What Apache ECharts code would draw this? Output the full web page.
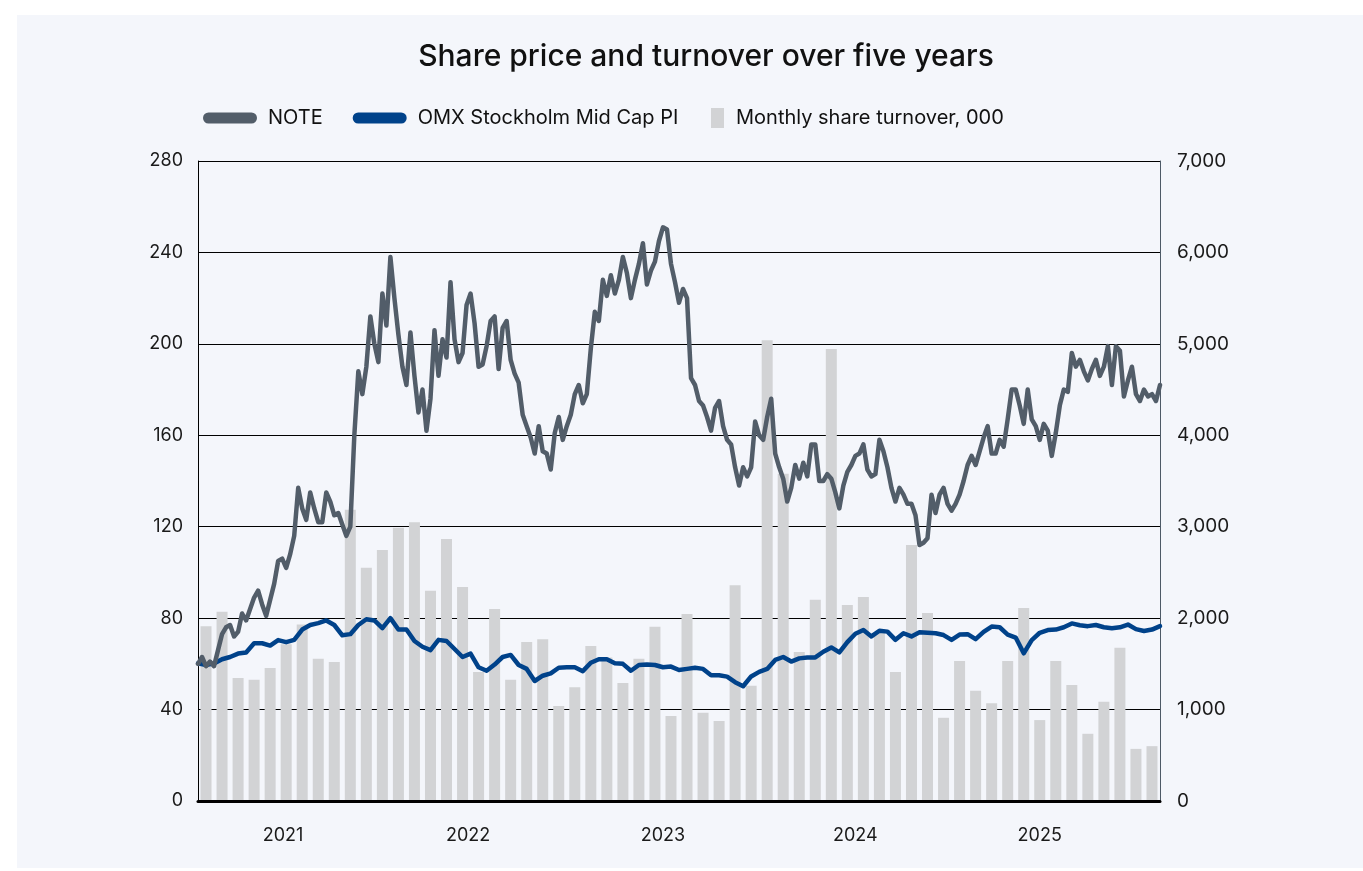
<!DOCTYPE html>
<html>
<head>
<meta charset="utf-8">
<title>Share price and turnover over five years</title>
<script src="https://cdn.jsdelivr.net/npm/echarts@6/dist/echarts.min.js"></script>
<style>
  html, body { margin: 0; padding: 0; background: #ffffff; }
  #panel { position: absolute; left: 17px; top: 15px; width: 1346px; height: 853px; background: #f4f6fb; }
  #chart { position: absolute; left: 0; top: 0; width: 1363px; height: 871px; }
</style>
</head>
<body>
<div id="panel"></div>
<div id="chart"></div>
<script>
// monthly share turnover, thousands of shares (60 months, Feb 2021 - Jan 2026)
const turnover = [
  1910, 2070, 1345, 1325, 1455, 1715, 1930, 1555, 1520, 3185,
  2550, 2745, 2990, 3050, 2300, 2865, 2340, 1410, 2100, 1325,
  1740, 1770, 1040, 1245, 1695, 1570, 1290, 1555, 1905, 930,
  2045, 965, 875, 2360, 1260, 5040, 3580, 1630, 2200, 4945,
  2145, 2230, 1840, 1410, 2800, 2055, 910, 1530, 1205, 1070,
  1530, 2110, 885, 1530, 1270, 735, 1085, 1675, 570, 600
];

// NOTE share price, weekly (4 readings per month)
const notePrice = [
  60, 63, 59, 61, 59, 66, 73, 76, 77, 72, 74, 82, 79, 84, 89, 92, 86, 81, 88, 95,
  105, 106, 102, 108, 116, 137, 128, 123, 135, 128, 122, 122, 135, 131, 125, 126, 121, 116, 120, 160,
  188, 178, 190, 212, 200, 192, 222, 208, 238, 220, 204, 190, 182, 205, 186, 170, 180, 162, 176, 206,
  186, 202, 194, 227, 202, 192, 196, 217, 222, 209, 190, 191, 199, 210, 212, 189, 207, 210, 193, 187,
  183, 169, 164, 159, 152, 164, 153, 152, 145, 161, 168, 158, 164, 169, 178, 182, 174, 178, 198, 214,
  210, 228, 221, 230, 222, 228, 238, 231, 220, 228, 235, 244, 226, 232, 236, 245, 251, 250, 235, 227,
  218, 224, 220, 185, 182, 175, 173, 168, 162, 172, 175, 164, 158, 156, 146, 138, 146, 142, 146, 166,
  160, 158, 168, 176, 152, 146, 141, 131, 137, 147, 141, 148, 142, 156, 156, 140, 140, 143, 141, 135,
  128, 138, 144, 147, 151, 152, 156, 145, 142, 143, 158, 153, 146, 137, 131, 137, 134, 130, 130, 125,
  112, 113, 115, 134, 126, 134, 137, 130, 127, 130, 134, 140, 147, 151, 147, 153, 159, 164, 152, 152,
  158, 155, 167, 180, 180, 173, 165, 180, 167, 164, 158, 165, 162, 151, 161, 173, 180, 179, 196, 190,
  193, 188, 184, 189, 193, 186, 190, 199, 182, 199, 197, 177, 184, 190, 178, 175, 180, 177, 178, 175,
  182
];

// OMX Stockholm Mid Cap PI, rebased, twice a month
const omxIndex = [
  60.2, 59.5, 60.2, 62, 63, 64.5, 65, 69, 69, 68, 70.4, 69.5, 70.5, 75, 77, 77.8, 79, 77, 72.5, 73,
  77, 79.5, 79, 75.6, 80, 75, 75, 70, 67.5, 66, 70.5, 70, 66.5, 63, 64.5, 58.5, 57, 59.7, 63, 63.9,
  59.5, 57.8, 52.5, 54.8, 55.8, 58.3, 58.5, 58.5, 56.8, 60.5, 62, 62, 60.3, 60, 57, 59.5, 59.7, 59.5, 58.5, 58.8,
  57.3, 57.8, 58.3, 57.8, 55, 55, 54.4, 52, 50.2, 54.5, 56.5, 57.8, 61.7, 63, 61, 62.4, 62.8, 62.8, 65.3, 67.2,
  65, 69.5, 73.2, 74.8, 72, 74.5, 74.1, 70.5, 73.4, 72, 73.8, 73.6, 73.4, 72.6, 70.5, 72.8, 73, 70.8, 74, 76.3,
  76, 72.8, 71.5, 64.6, 70.4, 73.6, 74.8, 75, 76, 77.7, 76.9, 76.5, 77, 76, 75.6, 76, 77.2, 75.2, 74.4, 75,
  76.5
];

const yearLabels = ['2021', '2022', '2023', '2024', '2025'];
const yearLabelPos = [5.3, 16.85, 29, 41, 52.5]; // months from start

const font = 'Inter, "Noto Sans", sans-serif';
const chart = echarts.init(document.getElementById('chart'), null, { renderer: 'canvas' });

const option = {
  animation: false,
  backgroundColor: 'transparent',
  title: {
    text: 'Share price and turnover over five years',
    left: 701,
    textAlign: 'center',
    top: 37,
    textStyle: { fontFamily: font, fontSize: 30, fontWeight: 500, color: '#111111' }
  },
  legend: [
    {
      data: ['NOTE', 'OMX Stockholm Mid Cap PI'],
      left: 198,
      top: 103,
      itemWidth: 54,
      itemHeight: 11,
      itemGap: 30,
      icon: 'path://M5.5,0 H48.5 A5.5,5.5 0 0 1 48.5,11 H5.5 A5.5,5.5 0 0 1 5.5,0 Z',
      textStyle: { fontFamily: font, fontSize: 20, color: '#111111', padding: [0, 0, 0, 6] }
    },
    {
      data: ['Monthly share turnover, 000'],
      left: 706,
      top: 103,
      itemWidth: 13,
      itemHeight: 20,
      icon: 'rect',
      textStyle: { fontFamily: font, fontSize: 20, color: '#111111', padding: [0, 0, 0, 7] }
    }
  ],
  grid: { left: 198, right: 203, top: 161, bottom: 70, containLabel: false },
  xAxis: {
    type: 'value',
    min: 0,
    max: 60,
    z: 10,
    axisLine: { show: true, lineStyle: { color: '#000000', width: 3 } },
    axisTick: { show: false },
    splitLine: { show: false },
    axisLabel: {
      customValues: yearLabelPos,
      formatter: v => {
        const k = yearLabelPos.indexOf(v);
        return k >= 0 ? yearLabels[k] : '';
      },
      margin: 26,
      fontFamily: font,
      fontSize: 18,
      color: '#1a1a1a'
    }
  },
  yAxis: [
    {
      type: 'value',
      min: 0,
      max: 280,
      interval: 40,
      axisLine: { show: true, lineStyle: { color: '#000000', width: 1 } },
      axisTick: { show: false },
      splitLine: { show: true, lineStyle: { color: '#000000', width: 1 } },
      axisLabel: { margin: 15, fontFamily: font, fontSize: 18, color: '#1a1a1a' }
    },
    {
      type: 'value',
      min: 0,
      max: 7000,
      interval: 1000,
      position: 'right',
      axisLine: { show: true, lineStyle: { color: '#4d5966', width: 1 } },
      axisTick: { show: false },
      splitLine: { show: false },
      axisLabel: {
        margin: 17,
        fontFamily: font,
        fontSize: 19,
        color: '#1a1a1a',
        formatter: v => v.toLocaleString('en-US')
      }
    }
  ],
  series: [
    {
      name: 'Monthly share turnover, 000',
      type: 'bar',
      yAxisIndex: 1,
      barWidth: 11,
      itemStyle: { color: '#d2d3d5' },
      data: turnover.map((v, i) => [i + 0.5, v]),
      z: 1
    },
    {
      name: 'OMX Stockholm Mid Cap PI',
      type: 'line',
      showSymbol: false,
      itemStyle: { color: '#00428a' },
      lineStyle: { color: '#00428a', width: 4.5, cap: 'round', join: 'round' },
      data: omxIndex.map((v, i) => [i / 2, v]),
      z: 3
    },
    {
      name: 'NOTE',
      type: 'line',
      showSymbol: false,
      itemStyle: { color: '#525d69' },
      lineStyle: { color: '#525d69', width: 4.5, cap: 'round', join: 'round' },
      data: notePrice.map((v, i) => [i / 4, v]),
      z: 4
    }
  ]
};

chart.setOption(option);
</script>
</body>
</html>
